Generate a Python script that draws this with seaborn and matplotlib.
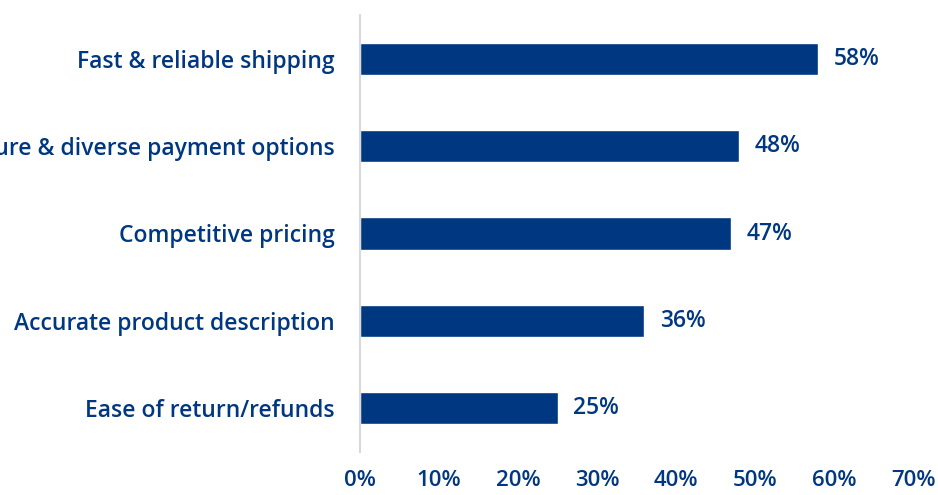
import numpy as np
import pandas as pd
import seaborn as sns
import matplotlib.pyplot as plt

# survey values (share of respondents)
categories = ["Fast & reliable shipping", "Secure & diverse payment options",
              "Competitive pricing", "Accurate product description",
              "Ease of return/refunds"]
values = [58, 48, 47, 36, 25]
xticks = [0, 10, 20, 30, 40, 50, 60, 70]

navy = "#003781"

sns.set_theme(style="white")
plt.rcParams["font.family"] = ["Open Sans", "DejaVu Sans"]

df = pd.DataFrame({"category": categories, "value": values})

fig = plt.figure(figsize=(9.38, 4.95), dpi=100)
ax = fig.add_axes([360 / 938, 1 - 451.5 / 495, (913 - 360) / 938, 436 / 495])

sns.barplot(data=df, x="value", y="category", color=navy, width=0.37,
            saturation=1, ax=ax)

fs = 16.5
ax.set_xlim(0, 70)
ax.set_ylim(4.5, -0.5)
ax.set_xticks(xticks)
ax.set_xticklabels([f"{t}%" for t in xticks], fontsize=16, fontweight="semibold",
                   color=navy)
ax.tick_params(axis="x", length=0, pad=13)
ax.tick_params(axis="y", length=0, pad=18, labelsize=fs, labelcolor=navy)
for lab in ax.get_yticklabels():
    lab.set_fontweight("semibold")

for i, v in enumerate(values):
    ax.text(v + 2, i, f"{v}%", va="center", ha="left", fontsize=fs,
            fontweight="semibold", color=navy)

ax.set_xlabel("")
ax.set_ylabel("")
for s in ["top", "right", "bottom"]:
    ax.spines[s].set_visible(False)
ax.spines["left"].set_color("#d9d9d9")
ax.spines["left"].set_linewidth(1.5)

fig.savefig("out.png", dpi=100)
